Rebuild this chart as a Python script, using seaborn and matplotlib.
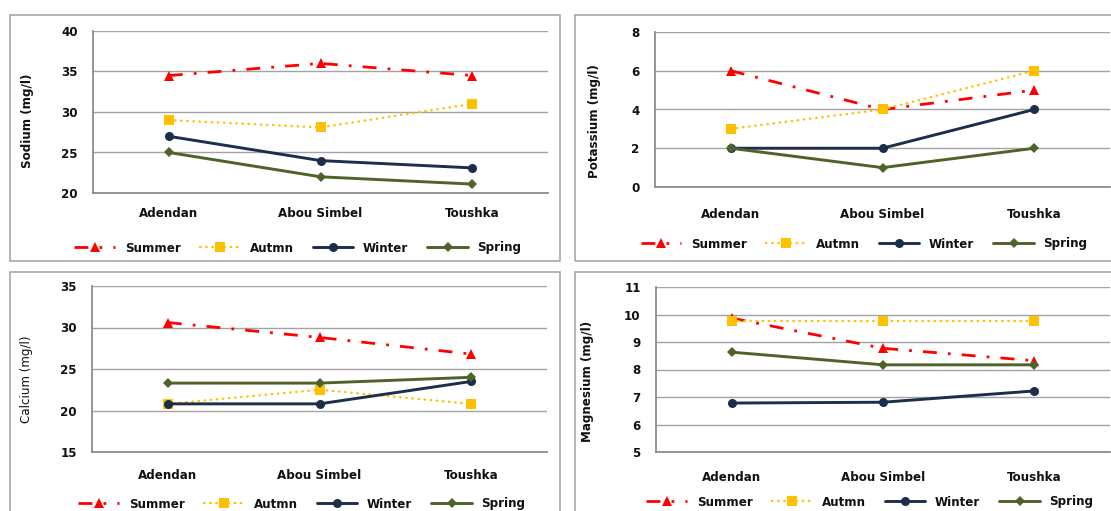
import matplotlib
matplotlib.use("Agg")
import matplotlib.pyplot as plt
from matplotlib.lines import Line2D
from matplotlib.patches import Rectangle
from matplotlib.ticker import FixedLocator, MultipleLocator
import pandas as pd
import seaborn as sns

# ---- data -------------------------------------------------------------
sites = ["Adendan", "Abou Simbel", "Toushka"]
seasons = ["Summer", "Autmn", "Winter", "Spring"]

sodium_summer = [34.5, 36.0, 34.5]
sodium_autumn = [29.0, 28.1, 31.0]
sodium_winter = [27.0, 24.0, 23.1]
sodium_spring = [25.0, 22.0, 21.1]

potassium_summer = [6.0, 4.0, 5.0]
potassium_autumn = [3.0, 4.0, 6.0]
potassium_winter = [2.0, 2.0, 4.0]
potassium_spring = [2.0, 1.0, 2.0]

calcium_summer = [30.6, 28.8, 26.8]
calcium_autumn = [20.8, 22.5, 20.8]
calcium_winter = [20.8, 20.8, 23.5]
calcium_spring = [23.3, 23.3, 24.0]

magnesium_summer = [9.87, 8.77, 8.32]
magnesium_autumn = [9.75, 9.75, 9.75]
magnesium_winter = [6.78, 6.81, 7.22]
magnesium_spring = [8.63, 8.17, 8.17]

# ---- styling ----------------------------------------------------------
sns.set_style("white")
plt.rcParams["font.family"] = ["DejaVu Sans"]

FS = 8.6
TXT = "#111111"
GRID = "#a3a3a3"
SPINE = "#8c8c8c"
BOX = "#a0a0a0"

season_style = {
    "Summer": dict(color="#ff0000", marker="^", ms=7.8, lw=2.0, ls=(0, (5.0, 4.0, 1, 4.0)), cap="butt"),
    "Autmn": dict(color="#ffc000", marker="s", ms=6.6, lw=1.7, ls=(0, (0.2, 2.4)), cap="round"),
    "Winter": dict(color="#1c2e4a", marker="o", ms=6.5, lw=2.1, ls="-", cap="butt"),
    "Spring": dict(color="#4f6228", marker="D", ms=5.5, lw=2.1, ls="-", cap="butt"),
}

W, H = 1111, 511
fig = plt.figure(figsize=(W / 100, H / 100), dpi=100)


def fx(px):
    return px / W


def fy(py):
    return 1 - py / H


# panel frames (pixel extents: left, top, right, bottom)
frames = [(10, 15, 560, 261), (575, 15, 1125, 261), (10, 272, 560, 525), (575, 272, 1125, 525)]
for l, t, r, b in frames:
    fig.add_artist(Rectangle((fx(l), fy(b)), fx(r - l), (b - t) / H,
                             transform=fig.transFigure, fill=False,
                             edgecolor=BOX, linewidth=1.1))

panels = [
    dict(rect=(93, 31, 548, 193), label="Sodium (mg/l)", weight="bold",
         ylim=(20, 40), step=5,
         series=[sodium_summer, sodium_autumn, sodium_winter, sodium_spring],
         xpad=10, lab_xy=(-0.13, 0.445), leg=(298, 248)),
    dict(rect=(655, 32, 1110, 187), label="Potassium (mg/l)", weight="bold",
         ylim=(0, 8), step=2,
         series=[potassium_summer, potassium_autumn, potassium_winter, potassium_spring],
         xpad=15, lab_xy=(-0.119, 0.427), leg=(864, 244)),
    dict(rect=(92, 286, 547, 452), label="Calcium (mg/l)", weight="normal",
         ylim=(15, 35), step=5,
         series=[calcium_summer, calcium_autumn, calcium_winter, calcium_spring],
         xpad=12, lab_xy=(-0.13, 0.44), leg=(302, 504)),
    dict(rect=(656, 287, 1110, 452), label="Magnesium (mg/l)", weight="bold",
         ylim=(5, 11), step=1,
         series=[magnesium_summer, magnesium_autumn, magnesium_winter, magnesium_spring],
         xpad=14, lab_xy=(-0.137, 0.43), leg=(870, 502)),
]

for p in panels:
    l, t, r, b = p["rect"]
    ax = fig.add_axes([fx(l), fy(b), fx(r - l), (b - t) / H])

    for season, vals in zip(seasons, p["series"]):
        st = season_style[season]
        df = pd.DataFrame({"site": sites, "value": vals})
        sns.lineplot(data=df, x="site", y="value", ax=ax, sort=False,
                     color=st["color"], marker=st["marker"], markersize=st["ms"],
                     markeredgewidth=0, linewidth=st["lw"], linestyle=st["ls"],
                     dash_capstyle=st["cap"], clip_on=False, zorder=3)

    ax.set_xlim(-0.5, 2.5)
    ax.set_ylim(*p["ylim"])
    ax.yaxis.set_major_locator(MultipleLocator(p["step"]))
    ax.grid(axis="y", color=GRID, linewidth=1.0)
    ax.grid(axis="x", visible=False)
    ax.set_axisbelow(True)

    for side in ("top", "right"):
        ax.spines[side].set_visible(False)
    for side in ("left", "bottom"):
        ax.spines[side].set_color(SPINE)
        ax.spines[side].set_linewidth(1.3)

    ax.set_xticks(range(len(sites)))
    ax.set_xticklabels(sites, fontsize=FS, fontweight="bold", color=TXT)
    ax.xaxis.set_minor_locator(FixedLocator([-0.5, 0.5, 1.5, 2.5]))
    ax.tick_params(axis="x", which="major", length=0, pad=p["xpad"])
    ax.tick_params(axis="x", which="minor", length=4, width=1.0, color=SPINE, direction="out")
    ax.tick_params(axis="y", length=0, pad=11, labelsize=FS, labelcolor=TXT)
    for tl in ax.get_yticklabels():
        tl.set_fontweight("bold")

    ax.set_xlabel("")
    ax.set_ylabel(p["label"], fontsize=FS, fontweight=p["weight"], color=TXT)
    ax.yaxis.set_label_coords(*p["lab_xy"])

    handles = []
    for season in seasons:
        st = season_style[season]
        handles.append(Line2D([], [], color=st["color"], marker=st["marker"],
                              markersize=st["ms"], markeredgewidth=0,
                              linewidth=st["lw"], linestyle=st["ls"],
                              dash_capstyle=st["cap"]))
    lx, ly = p["leg"]
    fig.legend(handles, seasons, loc="center", bbox_to_anchor=(fx(lx), fy(ly)),
               ncol=4, frameon=False, handlelength=3.4, handletextpad=0.8,
               columnspacing=1.6, borderpad=0, numpoints=1,
               prop=dict(size=FS, weight="bold"), labelcolor=TXT)

fig.savefig("out.png", dpi=100)
